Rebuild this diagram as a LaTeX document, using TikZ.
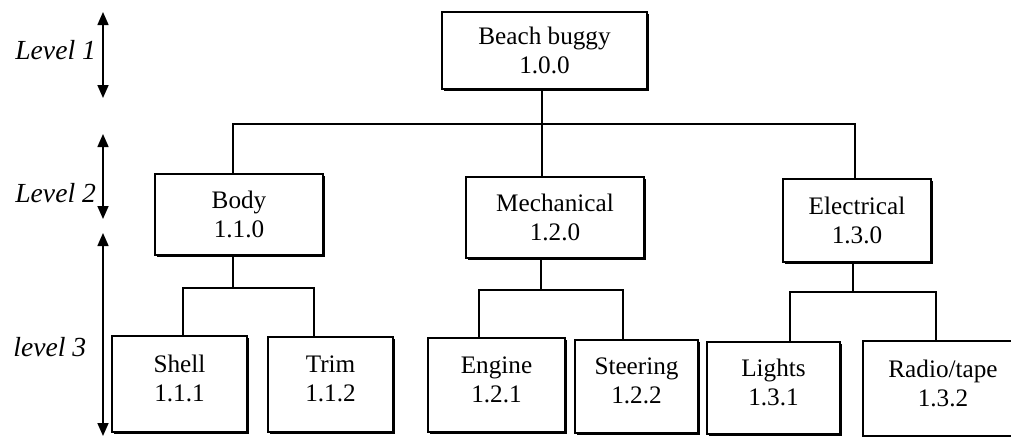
\documentclass[tikz,border=0pt]{standalone}
\usepackage{fontspec}
\setmainfont{Liberation Serif}
\usetikzlibrary{arrows.meta,shadows}
\begin{document}
\begin{tikzpicture}[x=0.5pt,y=-0.5pt,
  box/.style={draw, fill=white, line width=0.8pt, align=center, inner sep=0pt,
    font=\fontsize{12.6}{14.6}\selectfont,
    drop shadow={shadow xshift=0.9pt, shadow yshift=-0.9pt, fill=black, opacity=1}},
  conn/.style={line width=0.8pt},
  lvl/.style={line width=0.8pt, {Triangle[length=6.5pt,width=5.5pt]}-{Triangle[length=6.5pt,width=5.5pt]}},
  lvltext/.style={anchor=west, inner sep=0pt, font=\fontsize{13.8}{15}\selectfont\itshape}]
\clip (0,0) rectangle (1011,436);
\fill[white] (0,0) rectangle (1011,436);
% level 1
\node[box, minimum width=102.5pt, minimum height=38.5pt] (top) at (544.5,50.5) {Beach buggy\\1.0.0};
% level 2
\node[box, minimum width=84pt, minimum height=40.5pt] (body) at (239,214.5) {Body\\1.1.0};
\node[box, minimum width=89pt, minimum height=40.5pt] (mech) at (555,217.5) {Mechanical\\1.2.0};
\node[box, minimum width=74pt, minimum height=41.5pt] (elec) at (857,220.5) {Electrical\\1.3.0};
% level 3
\node[box, minimum width=67.5pt, minimum height=48pt] (shell) at (179.5,384) {Shell\\1.1.1\\[-9pt]\mbox{}};
\node[box, minimum width=62.5pt, minimum height=47.5pt] (trim) at (330.5,384.5) {Trim\\1.1.2\\[-9pt]\mbox{}};
\node[box, minimum width=68.5pt, minimum height=47pt] (engine) at (496.5,385) {Engine\\1.2.1\\[-9pt]\mbox{}};
\node[box, minimum width=61.5pt, minimum height=46.5pt] (steer) at (636.5,386.5) {Steering\\1.2.2\\[-9pt]\mbox{}};
\node[box, minimum width=66.5pt, minimum height=46pt] (lights) at (773.5,388) {Lights\\1.3.1\\[-9pt]\mbox{}};
\node[box, minimum width=80pt, minimum height=47.5pt] (radio) at (943,388.5) {Radio/tape\\1.3.2\\[-9pt]\mbox{}};
% junctions
\coordinate (j0) at (542,124);
\coordinate (jb) at (233,124);
\coordinate (je) at (855,124);
\coordinate (j1) at (233,288);
\coordinate (j1a) at (183,288);
\coordinate (j1b) at (314,288);
\coordinate (j2) at (541,290);
\coordinate (j2a) at (479,290);
\coordinate (j2b) at (623,290);
\coordinate (j3) at (853,292);
\coordinate (j3a) at (790,292);
\coordinate (j3b) at (936,292);
% connectors
\draw[conn] (top.south -| j0) -- (j0);
\draw[conn] (body.north -| jb) |- (je) -- (elec.north -| je);
\draw[conn] (j0) -- (mech.north -| j0);
\draw[conn] (body.south -| j1) -- (j1);
\draw[conn] (shell.north -| j1a) |- (j1b) -- (trim.north -| j1b);
\draw[conn] (mech.south -| j2) -- (j2);
\draw[conn] (engine.north -| j2a) |- (j2b) -- (steer.north -| j2b);
\draw[conn] (elec.south -| j3) -- (j3);
\draw[conn] (lights.north -| j3a) |- (j3b) -- (radio.north -| j3b);
% level arrows
\coordinate (l1t) at (103,12);
\coordinate (l1b) at (103,98);
\coordinate (l2t) at (103,134);
\coordinate (l2b) at (103,219);
\coordinate (l3t) at (103,233);
\coordinate (l3b) at (103,436);
\draw[lvl] (l1t) -- (l1b);
\draw[lvl] (l2t) -- (l2b);
\draw[lvl] (l3t) -- (l3b);
\node[lvltext] (t1) at (15,50) {Level 1};
\node[lvltext] (t2) at (15,193) {Level 2};
\node[lvltext] (t3) at (13,347) {level 3};
\end{tikzpicture}
\end{document}
